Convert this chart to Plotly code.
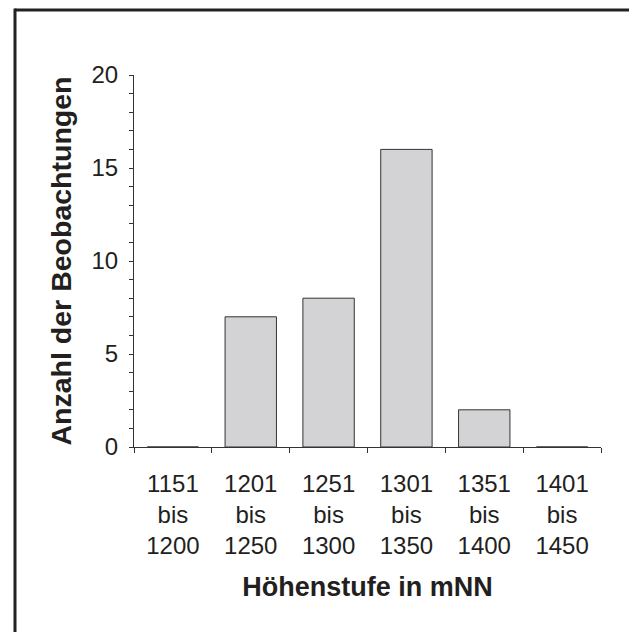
import plotly.graph_objects as go

categories = ["1151<br>bis<br>1200", "1201<br>bis<br>1250", "1251<br>bis<br>1300",
              "1301<br>bis<br>1350", "1351<br>bis<br>1400", "1401<br>bis<br>1450"]
counts = [0, 7, 8, 16, 2, 0]
y_ticks = [0, 5, 10, 15, 20]

FONT = "Liberation Sans, Arial, Helvetica, sans-serif"
TXT = "#231f20"
LINE = "#333333"

fig = go.Figure(go.Bar(
    x=categories, y=counts, width=0.66,
    marker=dict(color="#d3d3d5", line=dict(color=LINE, width=1)),
))

W, H = 637, 632
L, T = 126, 67
pw, ph = 467, 372
R, B = W - L - pw, H - T - ph

def px_x(p):
    return (p - L) / pw

def px_y(p):
    return (H - B - p) / ph

fig.update_layout(
    width=W, height=H,
    margin=dict(l=L, r=R, t=T, b=B, pad=0),
    paper_bgcolor="white", plot_bgcolor="white",
    showlegend=False,
    font=dict(family=FONT, color=TXT, size=24),
    bargap=0.34,
    xaxis=dict(
        type="category",
        showline=True, linecolor=LINE, linewidth=1,
        ticks="outside", ticklen=5, tickcolor=LINE, tickson="boundaries",
        showgrid=False, zeroline=False,
        ticklabelstandoff=15,
        tickfont=dict(size=24, family=FONT, color=TXT),
        title=dict(text="<b>Höhenstufe in mNN</b>", font=dict(size=27, family=FONT, color=TXT),
                   standoff=18),
    ),
    yaxis=dict(
        range=[0, 20], tickvals=y_ticks,
        showline=True, linecolor=LINE, linewidth=1,
        ticks="outside", ticklen=4, tickcolor=LINE,
        minor=dict(dtick=1, ticks="outside", ticklen=4, tickcolor=LINE, showgrid=False),
        showgrid=False, zeroline=False,
        ticklabelstandoff=6,
        tickfont=dict(size=24, family=FONT, color=TXT),
        title=dict(text="<b>Anzahl der Beobachtungen</b>", font=dict(size=28.5, family=FONT, color=TXT),
                   standoff=11),
    ),
    shapes=[
        dict(type="line", xref="paper", yref="paper",
             x0=px_x(7), x1=px_x(660), y0=px_y(2), y1=px_y(2),
             line=dict(color="#222222", width=3)),
        dict(type="line", xref="paper", yref="paper",
             x0=px_x(7), x1=px_x(7), y0=px_y(0.5), y1=px_y(660),
             line=dict(color="#222222", width=3)),
    ],
)

fig.write_html("out.html")
